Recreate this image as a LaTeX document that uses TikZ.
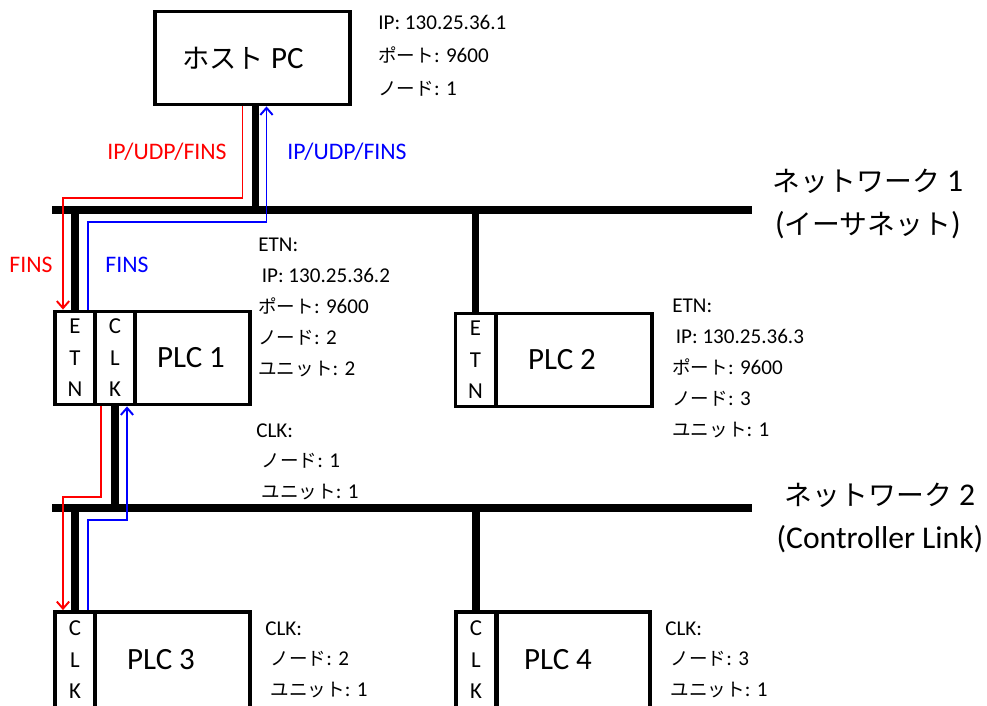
\documentclass[tikz,border=0pt]{standalone}
\usepackage{fontspec}
\setmainfont{Carlito}
\newfontfamily\jp{Noto Sans CJK JP}[Scale=0.88]
\usetikzlibrary{positioning,calc,arrows.meta}
\tikzset{>={Straight Barb[length=4pt,width=7pt]}}
\tikzset{
  box/.style={draw,line width=2.2pt,inner sep=0pt,minimum height=1.86cm},
  col/.style={box,minimum width=0.8cm,align=center,font=\fontsize{13}{17.9}\selectfont},
  big/.style={inner sep=0pt,font=\fontsize{17.6}{20}\selectfont},
  info/.style={anchor=north west,inner sep=0pt,align=left,font=\fontsize{12}{17.6}\selectfont},
  net/.style={inner sep=0pt,align=center,font=\fontsize{18}{24.5}\selectfont},
  tag/.style={inner sep=0pt,font=\fontsize{13.5}{15}\selectfont},
  bus/.style={line width=4.5pt},
  req/.style={red,line width=1.1pt},
  res/.style={blue,line width=1.1pt}
}

\begin{document}
\begin{tikzpicture}[x=0.02cm,y=-0.02cm]
\useasboundingbox (0,0) rectangle (987,706);

% Host PC
\node[box,minimum width=3.9cm] (host) at (252.5,58) {};
\node[big] (hostname) at (243,58) {{\jp ホスト} PC};
\node[info,font=\fontsize{12}{18.8}\selectfont] (hostinfo) at (378,15)
  {IP: 130.25.36.1\\{\jp ポート}: 9600\\{\jp ノード}: 1};

% PLC 1 with ETN and CLK units
\node[col] (etn1) at (75,358) {E\\T\\N};
\node[col] (clk1) at (115,358) {C\\L\\K};
\node[box,minimum width=2.3cm] (plc1) at (192.5,358) {};
\node[big] (plc1name) at (191,358) {PLC 1};
\node[info] (etn1info) at (258,238)
  {ETN:\\\,IP: 130.25.36.2\\{\jp ポート}: 9600\\{\jp ノード}: 2\\{\jp ユニット}: 2};
\node[info] (clk1info) at (256,423)
  {CLK:\\\kern3pt{\jp ノード}: 1\\\kern3pt{\jp ユニット}: 1};

% PLC 2 with ETN unit
\node[col] (etn2) at (475.5,360) {E\\T\\N};
\node[box,minimum width=3.12cm] (plc2) at (574,360) {};
\node[big] (plc2name) at (562,360) {PLC 2};
\node[info] (etn2info) at (672,299)
  {ETN:\\\,IP: 130.25.36.3\\{\jp ポート}: 9600\\{\jp ノード}: 3\\{\jp ユニット}: 1};

% PLC 3 and PLC 4 with CLK units
\node[col,minimum height=1.92cm] (clk3) at (75,660) {C\\L\\K};
\node[box,minimum width=3.1cm,minimum height=1.92cm] (plc3) at (172.5,660) {};
\node[big] (plc3name) at (161,660) {PLC 3};
\node[info] (clk3info) at (265,621)
  {CLK:\\\kern3pt{\jp ノード}: 2\\\kern3pt{\jp ユニット}: 1};

\node[col,minimum height=1.92cm] (clk4) at (476,660) {C\\L\\K};
\node[box,minimum width=3.06cm,minimum height=1.92cm] (plc4) at (573.5,660) {};
\node[big] (plc4name) at (558,660) {PLC 4};
\node[info] (clk4info) at (665,621)
  {CLK:\\\kern3pt{\jp ノード}: 3\\\kern3pt{\jp ユニット}: 1};

% Network 1 (Ethernet)
\coordinate (n1w) at (52,210);
\coordinate (n1e) at (752,210);
\draw[bus] (n1w) -- (n1e);
\draw[bus] ($(host.south)+(3,0)$) -- ($(host.south |- n1w)+(3,0)$);
\draw[bus] (etn1.north) -- (etn1.north |- n1w);
\draw[bus] (etn2.north) -- (etn2.north |- n1w);
\node[net] (net1) at (868,204) {{\jp ネットワーク} 1\\({\jp イーサネット})};

% Network 2 (Controller Link)
\coordinate (n2w) at (52,508);
\coordinate (n2e) at (752,508);
\draw[bus] (n2w) -- (n2e);
\draw[bus] (clk1.south) -- (clk1.south |- n2w);
\draw[bus] (clk3.north) -- (clk3.north |- n2w);
\draw[bus] (clk4.north) -- (clk4.north |- n2w);
\node[net] (net2) at (880,518) {{\jp ネットワーク} 2\\(Controller Link)};

% Request from host to PLC 3
\draw[req,->] ($(host.south)+(-10,0)$) -- ++(0,92) -| ($(etn1.north)+(-12,0)$);
\draw[req,->] ($(clk1.south)+(-14,0)$) -- ++(0,91) -| ($(clk3.north)+(-12,0)$);
\node[tag,red] (req1) at (167,152) {IP/UDP/FINS};
\node[tag,red] (req2) at (31,265) {FINS};

% Response from PLC 3 back to host
\draw[res,->] ($(etn1.north)+(13,0)$) -- ++(0,-88) -| ($(host.south)+(14,0)$);
\draw[res,->] ($(clk3.north)+(13,0)$) -- ++(0,-90) -| ($(clk1.south)+(12,0)$);
\node[tag,blue] (res1) at (347,152) {IP/UDP/FINS};
\node[tag,blue] (res2) at (127,265) {FINS};

\end{tikzpicture}
\end{document}
